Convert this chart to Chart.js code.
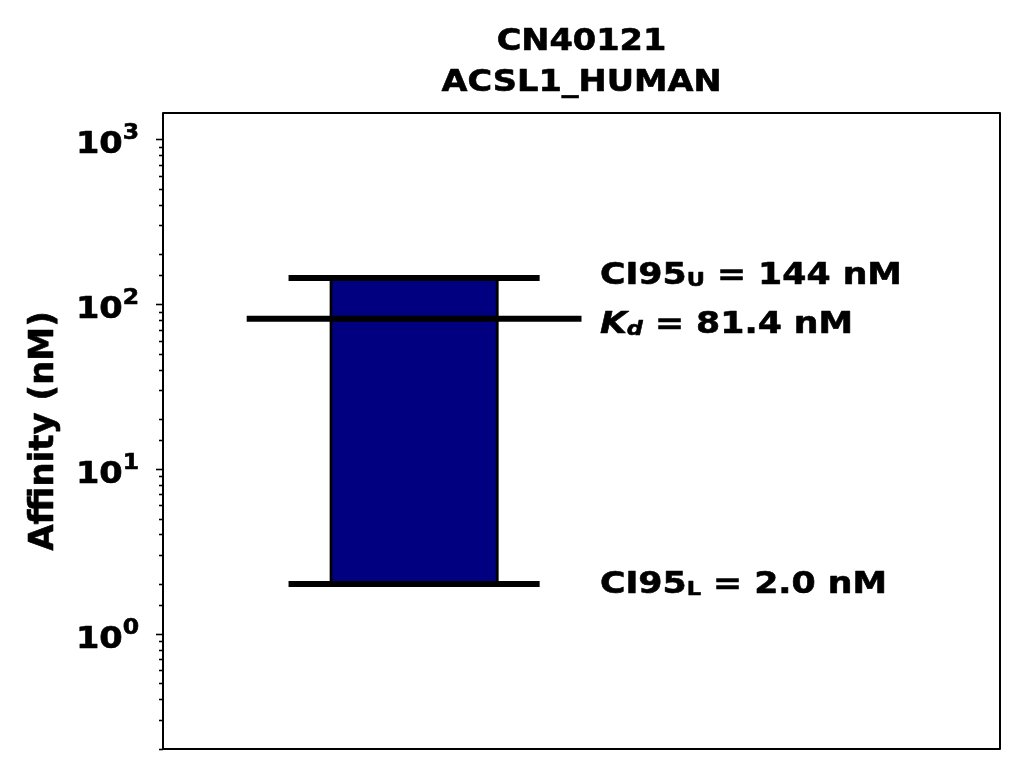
<!DOCTYPE html>
<html>
<head>
<meta charset="utf-8">
<script src="https://cdn.jsdelivr.net/npm/chart.js@4.4.1/dist/chart.umd.min.js"></script>
<style>
  html, body { margin: 0; padding: 0; background: #fff; }
  #wrap { width: 1024px; height: 775px; }
</style>
</head>
<body>
<div id="wrap"><canvas id="chart"></canvas></div>
<script>
// ===== DATA =====
const titleLines = ['CN40121', 'ACSL1_HUMAN'];
const yAxisTitle = 'Affinity (nM)';
const kdValue = 81.4;
const ciLower = 2.0;
const ciUpper = 144;
const majorTicks = [1, 10, 100, 1000];
const majorExponents = ['0', '1', '2', '3'];
const yRange = [0.2, 1440];

// x positions (axis units 0..1)
const barCenter = 0.3;
const ciSpan = [0.15, 0.45];
const kdSpan = [0.1, 0.5];
const textX = 0.522;

const FONT = "'DejaVu Sans', sans-serif";
const FONT_SIZE = 30;
const NOTE_SIZE = 31;
const STRETCH = 1.12;   // glyphs in the reference are a bit wider than DejaVu's own

function fmt(v) {
    return v >= 100 ? v.toFixed(0) : v.toFixed(1);
}

// ===== TEXT HELPERS =====
function setFont(ctx, size, italic) {
    ctx.font = (italic ? 'italic ' : '') + 'bold ' + size + 'px ' + FONT;
}

function partsWidth(ctx, parts, size) {
    let w = 0;
    parts.forEach(p => {
        setFont(ctx, p.size || size, p.italic);
        w += ctx.measureText(p.t).width * STRETCH;
    });
    return w;
}

// parts: {t, size, dy, italic}; x is left edge, y is baseline
function drawParts(ctx, x, y, parts, size) {
    let cx = x;
    ctx.textBaseline = 'alphabetic';
    ctx.textAlign = 'left';
    ctx.lineWidth = 0.6;
    ctx.lineJoin = 'round';
    parts.forEach(p => {
        setFont(ctx, p.size || size, p.italic);
        ctx.save();
        ctx.translate(cx, y + (p.dy || 0));
        ctx.scale(STRETCH, 1);
        ctx.fillText(p.t, 0, 0);
        ctx.strokeText(p.t, 0, 0);
        ctx.restore();
        cx += ctx.measureText(p.t).width * STRETCH;
    });
}

const SUB = { size: 20, dy: 2 };

const annotations = [
    { value: ciUpper, dy: 6, parts: [{ t: 'CI95' }, { t: 'U', ...SUB }, { t: ' = ' + fmt(ciUpper) + ' nM' }] },
    { value: kdValue, dy: 14, parts: [{ t: 'K', italic: true }, { t: 'd', italic: true, ...SUB }, { t: ' = ' + fmt(kdValue) + ' nM' }] },
    { value: ciLower, dy: 9, parts: [{ t: 'CI95' }, { t: 'L', ...SUB }, { t: ' = ' + fmt(ciLower) + ' nM' }] }
];

const overlayPlugin = {
    id: 'overlay',
    afterDraw(chart) {
        const ctx = chart.ctx;
        const area = chart.chartArea;
        const xs = chart.scales.x;
        const ys = chart.scales.y;
        ctx.save();
        ctx.fillStyle = '#000';
        ctx.strokeStyle = '#000';

        // tick marks (major longer than minor) and decade labels
        ys.ticks.forEach(t => {
            const py = Math.round(ys.getPixelForValue(t.value)) + 0.5;
            const i = majorTicks.indexOf(t.value);
            const len = i >= 0 ? 7 : 4;
            ctx.lineWidth = 1.6;
            ctx.beginPath();
            ctx.moveTo(area.left - len, py);
            ctx.lineTo(area.left, py);
            ctx.stroke();
            if (i >= 0) {
                const parts = [{ t: '10' }, { t: majorExponents[i], size: 21, dy: -14 }];
                const w = partsWidth(ctx, parts, FONT_SIZE);
                drawParts(ctx, area.left - 24 - w, py + 13, parts, FONT_SIZE);
            }
        });

        // frame
        ctx.lineWidth = 2;
        ctx.strokeRect(area.left, area.top, area.right - area.left, area.bottom - area.top);

        // title, centred over the plot
        const cx = (area.left + area.right) / 2;
        titleLines.forEach((line, k) => {
            const parts = [{ t: line }];
            const w = partsWidth(ctx, parts, FONT_SIZE);
            drawParts(ctx, cx - w / 2, 50 + k * 41, parts, FONT_SIZE);
        });

        // y axis title
        ctx.save();
        ctx.translate(53, (area.top + area.bottom) / 2);
        ctx.rotate(-Math.PI / 2);
        setFont(ctx, 34, false);
        ctx.textAlign = 'center';
        ctx.textBaseline = 'alphabetic';
        ctx.lineWidth = 0.6;
        ctx.fillText(yAxisTitle, 0, 0);
        ctx.strokeText(yAxisTitle, 0, 0);
        ctx.restore();

        // annotations
        annotations.forEach(a => {
            drawParts(ctx, xs.getPixelForValue(textX), ys.getPixelForValue(a.value) + a.dy, a.parts, NOTE_SIZE);
        });
        ctx.restore();
    }
};

function hLine(span, y) {
    return {
        type: 'line',
        data: [{ x: span[0], y: y }, { x: span[1], y: y }],
        borderColor: '#000',
        borderWidth: 6,
        borderCapStyle: 'butt',
        pointRadius: 0,
        order: 0
    };
}

new Chart(document.getElementById('chart'), {
    type: 'bar',
    data: {
        datasets: [
            hLine(ciSpan, ciUpper),
            hLine(kdSpan, kdValue),
            hLine(ciSpan, ciLower),
            {
                type: 'bar',
                data: [{ x: barCenter, y: [ciLower, ciUpper] }],
                backgroundColor: '#000080',
                borderColor: '#000',
                borderWidth: 3,
                borderSkipped: false,
                inflateAmount: 1,
                categoryPercentage: 0.2,
                barPercentage: 1,
                order: 1
            }
        ]
    },
    options: {
        responsive: true,
        maintainAspectRatio: false,
        animation: false,
        devicePixelRatio: 1,
        layout: { padding: { left: 0, right: 24, top: 113, bottom: 26 } },
        plugins: {
            legend: { display: false },
            tooltip: { enabled: false },
            title: { display: false }
        },
        scales: {
            x: {
                type: 'linear',
                min: 0,
                max: 1,
                offset: false,
                display: false,
                ticks: { stepSize: 1 }
            },
            y: {
                type: 'logarithmic',
                min: yRange[0],
                max: yRange[1],
                afterBuildTicks(scale) {
                    scale.ticks = scale.ticks.filter(t => t.value >= yRange[0] && t.value < yRange[1]);
                },
                afterFit(scale) {
                    scale.width = 163;
                    scale.paddingTop = 0;
                    scale.paddingBottom = 0;
                },
                border: { display: false },
                grid: { display: false, drawTicks: false },
                ticks: { display: false, autoSkip: false },
                title: { display: false }
            }
        }
    },
    plugins: [overlayPlugin]
});
</script>
</body>
</html>
